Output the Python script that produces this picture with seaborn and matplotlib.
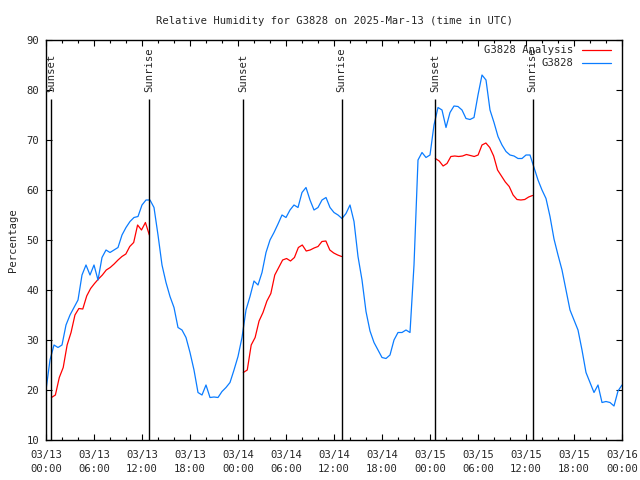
import numpy as np
import pandas as pd
import seaborn as sns
import matplotlib
import matplotlib.pyplot as plt
import matplotlib.dates as mdates

matplotlib.use('Agg')

# Observed relative humidity, every 30 minutes from 2025-03-13 00:00 UTC
obs_rh = [20, 26, 29, 28.5, 29, 33, 35, 36.5, 38, 43, 45, 43, 45, 42, 46.5, 48,
          47.5, 48, 48.5, 51, 52.5, 53.7, 54.5, 54.7, 57, 58, 58, 56.5, 51, 45,
          41.5, 38.7,
          36.5, 32.5, 32, 30.5, 27.5, 24, 19.5, 19, 21, 18.5, 18.6, 18.5, 19.7, 20.5,
          21.5, 24, 26.7, 30.5, 36, 38.7, 41.8, 41, 43.5, 47.5, 50, 51.5, 53.2, 55,
          54.5, 56, 57, 56.5,
          59.5, 60.5, 58, 56, 56.5, 58, 58.5, 56.5, 55.5, 55, 54.3, 55.3, 57, 53.7,
          46.7, 42, 35.7, 31.8, 29.5, 28, 26.5, 26.3, 27, 30, 31.5, 31.5, 32, 31.5,
          45, 66,
          67.5, 66.5, 67, 73, 76.5, 76, 72.5, 75.5, 76.8, 76.7, 76, 74.3, 74.1, 74.5,
          79, 83, 82, 76, 73.5, 70.7, 69, 67.7, 67, 66.8, 66.3, 66.3, 67, 67, 64.5,
          62, 60, 58.3, 54.7, 50.2, 47, 44, 40, 36, 34, 32, 28, 23.5, 21.5, 19.5,
          21, 17.5, 17.7, 17.5, 16.8, 19.8, 21]

# Sunset / sunrise times (UTC)
sunset = ['2025-03-13 00:41', '2025-03-14 00:40', '2025-03-15 00:40']
sunrise = ['2025-03-13 12:55', '2025-03-14 12:57', '2025-03-15 12:49']

# Analysis values, one night each (sunset -> sunrise)
night1_rh = [18.5, 19, 22.5, 24.5, 29, 31.5, 35, 36.3, 36.2, 38.8, 40.3, 41.3, 42.2,
             43, 44, 44.5, 45.2, 46, 46.7, 47.2, 48.7, 49.5, 53, 52, 53.5, 51]
night2_rh = [23.5, 24, 29, 30.5, 33.8, 35.5, 37.8, 39.3, 43, 44.5, 46, 46.3, 45.8,
             46.5, 48.5, 49, 47.8, 48, 48.4, 48.7, 49.7, 49.8, 48, 47.4, 47, 46.7]
night3_rh = [66.3, 65.8, 64.8, 65.3, 66.7, 66.8, 66.7, 66.8, 67.1, 66.9, 66.7, 67,
             69, 69.4, 68.5, 66.8, 64, 62.8, 61.6, 60.7, 59, 58.1, 58, 58.1, 58.6, 58.9]

start = pd.Timestamp('2025-03-13 00:00')
obs = pd.DataFrame({
    'time': start + pd.to_timedelta(np.arange(len(obs_rh)) * 30, unit='min'),
    'rh': obs_rh,
})

sns.set_style("ticks")
plt.rcParams['font.family'] = ['DejaVu Sans Mono']
fs = 7.6

fig = plt.figure(figsize=(6.4, 4.8), dpi=100)
ax = fig.add_axes([46 / 640, 40 / 480, 576 / 640, 400 / 480])

red = '#ff0000'
blue = '#0a7cff'

for i, vals in enumerate([night1_rh, night2_rh, night3_rh]):
    t0 = pd.Timestamp(sunset[i])
    t1 = pd.Timestamp(sunrise[i])
    seg = pd.DataFrame({'time': pd.date_range(t0, t1, periods=len(vals)), 'rh': vals})
    sns.lineplot(data=seg, x='time', y='rh', ax=ax, color=red, lw=0.9,
                 label='G3828 Analysis' if i == 0 else None)

sns.lineplot(data=obs, x='time', y='rh', ax=ax, color=blue, lw=0.9, label='G3828')

# sunset / sunrise markers
for name, times in [('Sunset', sunset), ('Sunrise', sunrise)]:
    for t in times:
        t = pd.Timestamp(t)
        ax.vlines(t, 10, 78.2, color='black', lw=1.0)
        ax.text(t, 79.6, name, rotation=90, ha='center', va='bottom', fontsize=fs)

ax.set_xlim(start, start + pd.Timedelta(hours=72))
ax.set_ylim(10, 90)
ax.set_yticks(range(10, 91, 10))
ax.xaxis.set_major_locator(mdates.HourLocator(byhour=[0, 6, 12, 18]))
ax.xaxis.set_minor_locator(mdates.HourLocator(byhour=range(0, 24, 2)))
ax.xaxis.set_major_formatter(mdates.DateFormatter('%m/%d\n%H:%M'))

ax.tick_params(which='both', direction='in', top=True, right=True,
               labelsize=fs, color='black', width=0.8)
ax.tick_params(which='major', length=4.5, pad=5)
ax.tick_params(axis='x', which='major', pad=7.5)
ax.tick_params(which='minor', length=2)
for lbl in ax.get_xticklabels():
    lbl.set_linespacing(1.45)
for s in ax.spines.values():
    s.set_color('black')
    s.set_linewidth(1.0)

ax.set_xlabel('')
ax.set_ylabel('Percentage', fontsize=fs, labelpad=6)
ax.set_title('Relative Humidity for G3828 on 2025-Mar-13 (time in UTC)',
             fontsize=fs, pad=11.5)

ax.legend(loc='upper right', frameon=False, markerfirst=False, fontsize=fs,
          handlelength=2.7, handletextpad=0.9, labelspacing=0.3,
          borderaxespad=0.1, bbox_to_anchor=(0.99, 1.0))

fig.savefig('out.png', dpi=100)
plt.close(fig)
